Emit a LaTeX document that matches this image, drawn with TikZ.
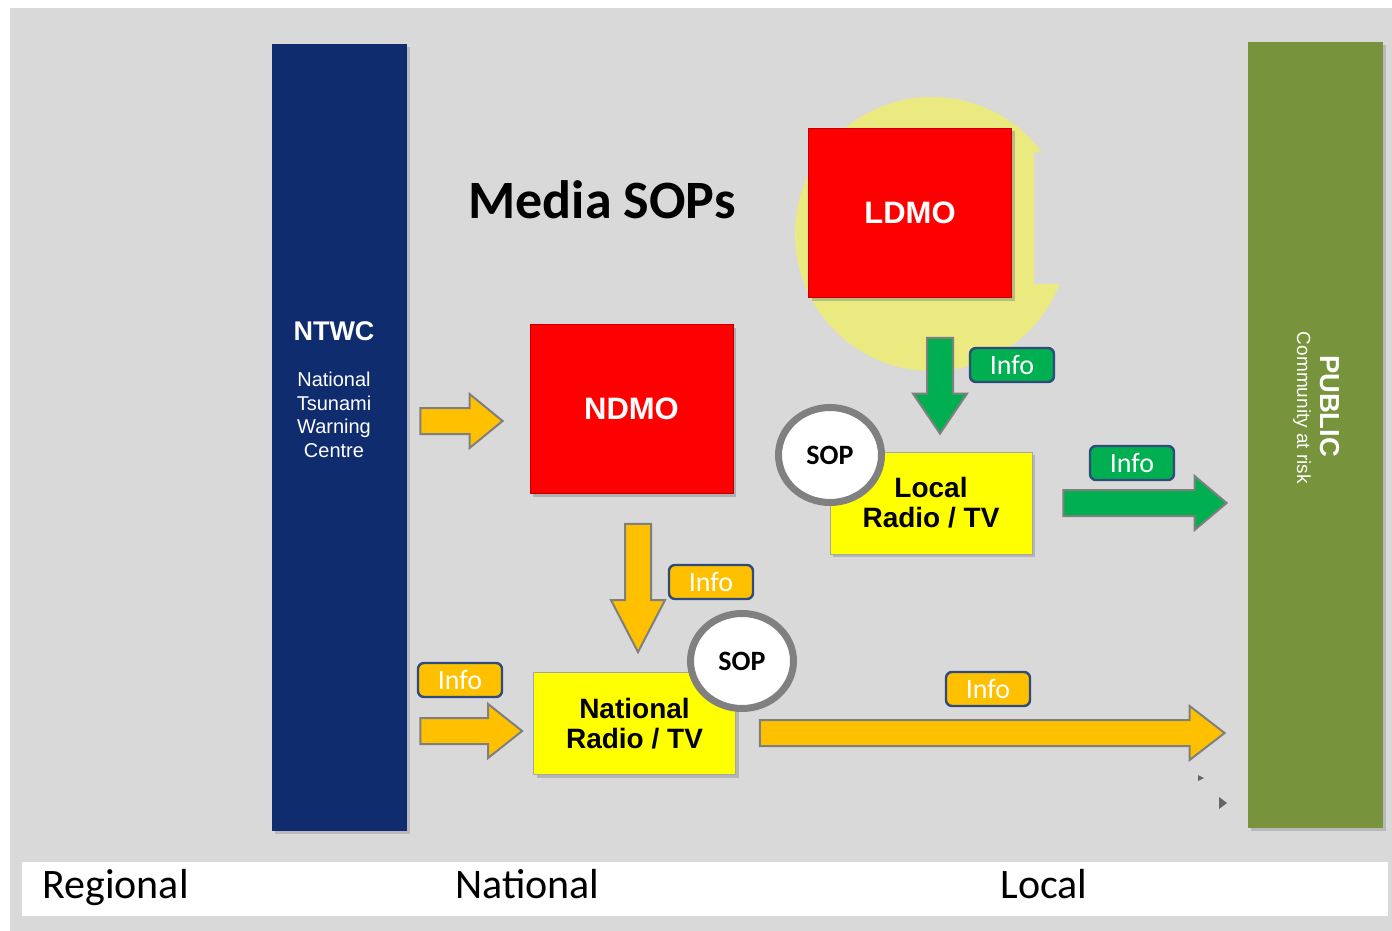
\documentclass[tikz,border=0pt]{standalone}
\usepackage{fontspec}
\setmainfont{Carlito}
\newfontfamily\arialfont{Liberation Sans}
\usetikzlibrary{calc,positioning,shadows,shapes.geometric}

\definecolor{bggray}{HTML}{D9D9D9}
\definecolor{ntwcblue}{HTML}{0F2C6E}
\definecolor{publicgreen}{HTML}{77933C}
\definecolor{glowyellow}{HTML}{EAEA80}
\definecolor{boxyellow}{HTML}{FFFF00}
\definecolor{infoorange}{HTML}{FFC000}
\definecolor{infogreen}{HTML}{00B050}
\definecolor{infoblue}{HTML}{2F4B7C}
\definecolor{arrowgray}{HTML}{7F7F7F}
\definecolor{sopgray}{HTML}{808080}

\tikzset{
  bar/.style={minimum width=67.5pt, minimum height=393pt, inner sep=0pt,
    drop shadow={shadow xshift=1.5pt, shadow yshift=-1.5pt, opacity=.35}},
  redbox/.style={fill=red, draw=red!75!black, line width=.4pt,
    minimum width=101.5pt, minimum height=84.5pt, text=white,
    font=\arialfont\bfseries\fontsize{15.5}{18}\selectfont,
    drop shadow={shadow xshift=1.5pt, shadow yshift=-1.5pt, opacity=.45}},
  radiobox/.style={fill=boxyellow, draw=black!35, line width=.4pt,
    minimum width=101pt, minimum height=51pt, align=center,
    font=\arialfont\bfseries\fontsize{14}{15}\selectfont,
    drop shadow={shadow xshift=1.5pt, shadow yshift=-1.5pt, opacity=.4}},
  sopmark/.style={ellipse, fill=white, draw=sopgray, line width=3.5pt,
    minimum width=51.5pt, minimum height=47.5pt, inner sep=0pt,
    font=\bfseries\fontsize{14}{16}\selectfont},
  infotag/.style={rounded corners=3pt, draw=infoblue, line width=1.2pt,
    text=white, minimum width=42pt, minimum height=17pt, inner sep=0pt,
    font=\fontsize{14}{16}\selectfont},
  zone/.style={anchor=base west, inner sep=0pt, font=\fontsize{21}{25}\selectfont},
  orangeflow/.style={fill=infoorange, draw=arrowgray, line width=1pt},
  greenflow/.style={fill=infogreen, draw=arrowgray, line width=1pt},
  blockarrow/.style={to path={
    let \p1=($(\tikztotarget)-(\tikztostart)$),
        \n1={atan2(\y1,\x1)}, \n2={veclen(\x1,\y1)} in
    ($(\tikztostart)+({\n1+90}:6.5pt)$)
    -- ($(\tikztostart)+(\n1:{\n2-#1})+({\n1+90}:6.5pt)$)
    -- ($(\tikztostart)+(\n1:{\n2-#1})+({\n1+90}:13.5pt)$)
    -- (\tikztotarget)
    -- ($(\tikztostart)+(\n1:{\n2-#1})+({\n1-90}:13.5pt)$)
    -- ($(\tikztostart)+(\n1:{\n2-#1})+({\n1-90}:6.5pt)$)
    -- ($(\tikztostart)+({\n1-90}:6.5pt)$)
    -- cycle}},
  blockarrow/.default=17pt
}

\begin{document}
\begin{tikzpicture}[x=0.5pt, y=-0.5pt]
  \useasboundingbox (0,0) rectangle (1392,931);
  % background and zone strip
  \fill[white] (0,0) rectangle (1392,931);
  \fill[bggray] (10,8) rectangle (1392,931);
  \fill[white] (22,862) rectangle (1388,916);

  % glow behind LDMO
  \begin{scope}
    \clip (700,60) -- (1120,60) -- (1120,152) -- (1034,152) -- (1034,284)
      -- (1120,284) -- (1120,420) -- (700,420) -- cycle;
    \fill[glowyellow] (932,234) circle[radius=68.5pt];
  \end{scope}

  % columns
  \node[bar, fill=ntwcblue] (ntwc) at (339.5,437.5) {};
  \node[bar, fill=publicgreen] (public) at (1315.5,435) {};
  \node[text=white, font=\arialfont\bfseries\fontsize{13.5}{16}\selectfont]
    (ntwcname) at (334,331) {NTWC};
  \node[text=white, align=center, font=\arialfont\fontsize{10}{11.75}\selectfont]
    (ntwcfull) at (334,415) {National\\Tsunami\\Warning\\Centre};
  \node[rotate=-90, text=white, font=\arialfont\bfseries\fontsize{13.7}{16}\selectfont]
    (publicname) at (1330,406) {PUBLIC};
  \node[rotate=-90, text=white, font=\arialfont\fontsize{9.5}{11}\selectfont]
    (publicnote) at (1302,408) {Community at risk};

  % agencies and broadcasters
  \node[redbox] (ldmo) at (910,213) {LDMO};
  \node[redbox] (ndmo) at (631.5,409) {NDMO};
  \node[radiobox] (locradio) at (931,503) {Local\\Radio / TV};
  \node[radiobox] (natradio) at (634.5,723.5) {National\\Radio / TV};

  \node[anchor=base, font=\bfseries\fontsize{27}{32}\selectfont]
    (title) at (602,218) {Media SOPs};

  % arrow ends
  \coordinate (a1s) at ($(ntwc.east)+(6.5pt,8.25pt)$);
  \coordinate (a1e) at ($(a1s -| ndmo.west)+(-13.5pt,0)$);
  \coordinate (a2s) at ($(ndmo.south)+(3.25pt,-15pt)$);
  \coordinate (a2e) at ($(a2s |- natradio.north)+(0,10pt)$);
  \coordinate (a3s) at ($(ntwc.east |- natradio.west)+(6.5pt,-3.75pt)$);
  \coordinate (a3e) at ($(a3s -| natradio.west)+(-5.5pt,0)$);
  \coordinate (a4s) at ($(natradio.east)+(12pt,-4.75pt)$);
  \coordinate (a4e) at ($(a4s -| public.west)+(-11.5pt,0)$);
  \coordinate (g1s) at ($(ldmo.south)+(15pt,-20pt)$);
  \coordinate (g1e) at ($(g1s |- locradio.north)+(0,9pt)$);
  \coordinate (g2s) at ($(locradio.east)+(15.5pt,0)$);
  \coordinate (g2e) at ($(g2s -| public.west)+(-10.5pt,0)$);

  \draw[orangeflow] (a1s) to[blockarrow=16.5pt] (a1e);
  \draw[orangeflow] (a2s) to[blockarrow=26pt] (a2e);
  \draw[orangeflow] (a3s) to[blockarrow] (a3e);
  \draw[orangeflow] (a4s) to[blockarrow=17.5pt] (a4e);
  \draw[greenflow] (g1s) to[blockarrow=20pt] (g1e);
  \draw[greenflow] (g2s) to[blockarrow=16pt] (g2e);

  % info tags
  \node[infotag, fill=infogreen] (infoldmo) at (1012,365) {Info};
  \node[infotag, fill=infogreen] (infolocal) at (1132,463) {Info};
  \node[infotag, fill=infoorange] (infondmo) at (711,582) {Info};
  \node[infotag, fill=infoorange] (infontwc) at (460,680) {Info};
  \node[infotag, fill=infoorange] (infonat) at (988,689) {Info};

  % SOP marks
  \node[sopmark] (soplocal) at (830,455) {SOP};
  \node[sopmark] (sopnat) at (742,661) {SOP};

  % stray marks
  \fill[arrowgray!80!black] (1219,797) -- (1227,803) -- (1219,809) -- cycle;
  \fill[arrowgray!80!black] (1198,775) -- (1204,778) -- (1198,781) -- cycle;

  % zones
  \node[zone] (regional) at (42,898) {Regional};
  \node[zone] (national) at (455,898) {National};
  \node[zone] (local) at (1000,898) {Local};
\end{tikzpicture}
\end{document}
